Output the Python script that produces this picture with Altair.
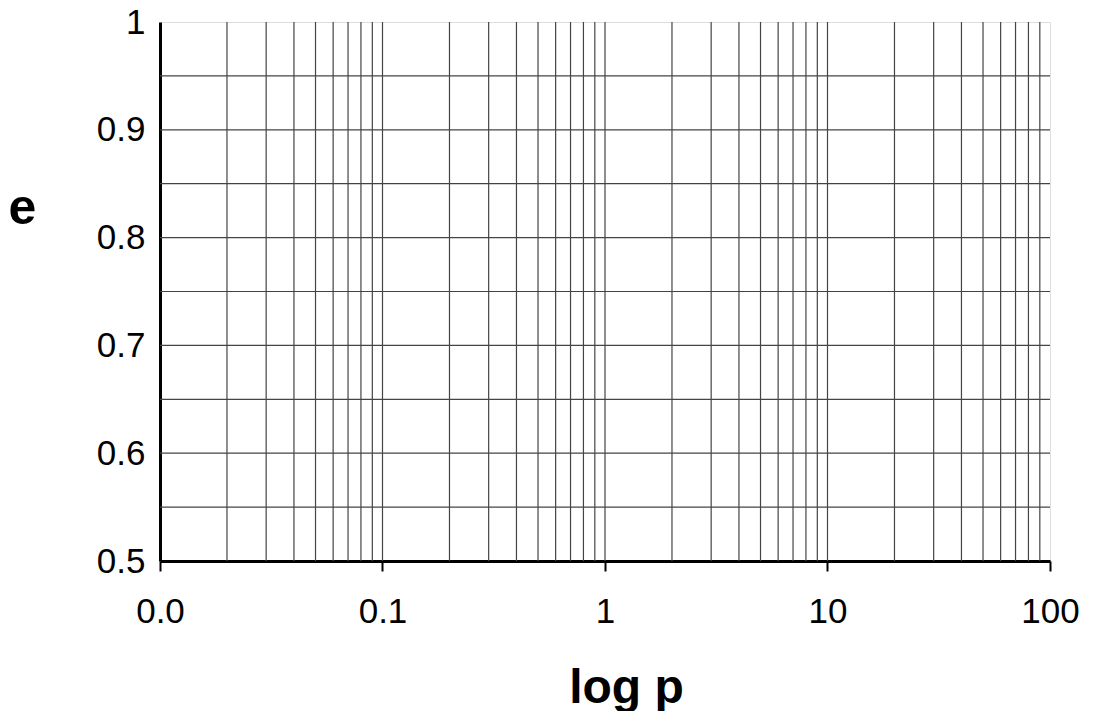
import altair as alt
import pandas as pd

# x grid positions (log p)
x_grid = [0.02, 0.03, 0.04, 0.05, 0.06, 0.07, 0.08, 0.09, 0.1,
          0.2, 0.3, 0.4, 0.5, 0.6, 0.7, 0.8, 0.9, 1,
          2, 3, 4, 5, 6, 7, 8, 9, 10,
          20, 30, 40, 50, 60, 70, 80, 90]
# y grid positions (e)
y_grid = [0.55, 0.6, 0.65, 0.7, 0.75, 0.8, 0.85, 0.9, 0.95]
# axis ticks and labels
x_ticks = [0.01, 0.1, 1, 10, 100]
x_labels = ["0.0", "0.1", "1", "10", "100"]
y_ticks = [0.5, 0.6, 0.7, 0.8, 0.9, 1.0]

FONT = "Liberation Sans"
grid_color = "#444444"

x_scale = alt.Scale(type="log", domain=[0.01, 100], nice=False)
y_scale = alt.Scale(domain=[0.5, 1.0], nice=False, zero=False)

label_arr = "[" + ",".join("'%s'" % s for s in x_labels) + "]"
x_label_expr = label_arr + "[round(log(datum.value)/LN10)+2]"

xdf = pd.DataFrame({"p": x_grid})
ydf = pd.DataFrame({"e": y_grid})

x_rules = alt.Chart(xdf).mark_rule(color=grid_color, strokeWidth=1.2).encode(
    x=alt.X("p:Q", scale=x_scale,
            axis=alt.Axis(values=x_ticks, labelExpr=x_label_expr, grid=False,
                          title="log p", titleFontSize=48, titleFont=FONT,
                          titleFontWeight="bold", titleColor="black",
                          titleX=466, titleY=141, titleAlign="center",
                          titleBaseline="alphabetic",
                          labelFont=FONT, labelFontSize=35, labelColor="black",
                          labelPadding=23, tickSize=10, tickWidth=2,
                          tickColor="black", domainColor="black", domainWidth=3,
                          labelFlush=False, labelOverlap=False))
)

y_rules = alt.Chart(ydf).mark_rule(color=grid_color, strokeWidth=1.2).encode(
    y=alt.Y("e:Q", scale=y_scale,
            axis=alt.Axis(values=y_ticks, format=".1~f", grid=False,
                          title="e", titleFontSize=50, titleFont=FONT,
                          titleFontWeight="bold", titleColor="black",
                          titleAngle=0, titleX=-138, titleY=201,
                          titleAlign="center", titleBaseline="alphabetic",
                          labelFont=FONT, labelFontSize=35, labelColor="black",
                          labelPadding=15, ticks=False,
                          domainColor="black", domainWidth=3,
                          labelFlush=False, labelOverlap=False))
)

chart = alt.layer(x_rules, y_rules).properties(
    width=890, height=539,
    padding={"left": 152, "top": 14, "right": 40, "bottom": 150},
    autosize=alt.AutoSizeParams(type="none"),
).configure_view(stroke="black", strokeWidth=3).configure(background="white")

chart.save("out.html", embed_options={"renderer": "svg", "actions": False})
